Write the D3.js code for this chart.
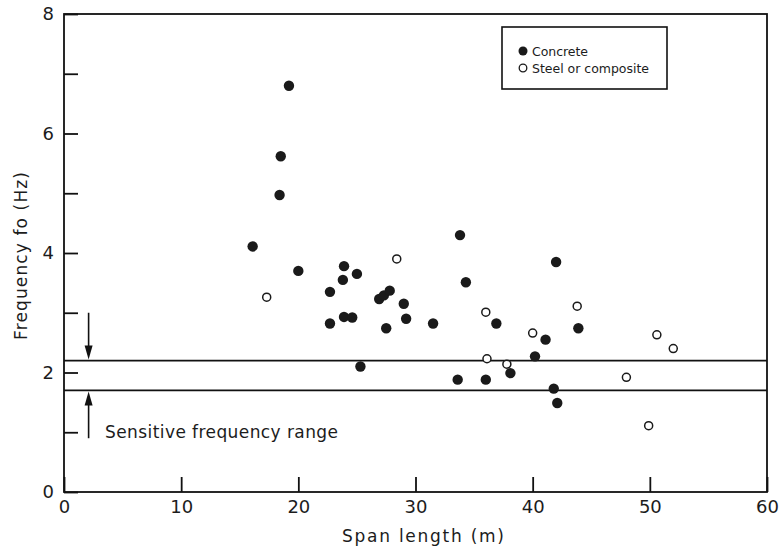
<!DOCTYPE html>
<html>
<head>
<meta charset="utf-8">
<script src="https://cdn.jsdelivr.net/npm/d3@7"></script>
<style>
  body { margin: 0; background: #fff; }
  text { font-family: "DejaVu Sans", "Liberation Sans", sans-serif; fill: #1c1c1c; }
</style>
</head>
<body>
<svg id="chart" width="782" height="547"></svg>
<script>
// span length (m) / frequency (Hz), concrete bridges
const concreteSpan = [19.2, 18.5, 18.4, 16.1, 20.0, 23.9, 23.8, 25.0, 22.7, 22.7, 23.9, 24.6, 25.3,
  26.9, 27.3, 27.8, 27.5, 29.0, 29.2, 33.8, 34.3, 31.5, 36.9, 41.1, 42.0, 43.9, 38.1, 40.2,
  33.6, 36.0, 41.8, 42.1];
const concreteFreq = [6.80, 5.62, 4.97, 4.11, 3.70, 3.78, 3.55, 3.65, 3.35, 2.82, 2.93, 2.92, 2.10,
  3.23, 3.29, 3.37, 2.74, 3.15, 2.90, 4.30, 3.51, 2.82, 2.82, 2.55, 3.85, 2.74, 1.99, 2.27,
  1.88, 1.88, 1.73, 1.49];
// steel or composite
const steelSpan = [17.3, 28.4, 36.0, 40.0, 43.8, 36.1, 37.8, 50.6, 52.0, 48.0, 49.9];
const steelFreq = [3.26, 3.90, 3.01, 2.66, 3.11, 2.23, 2.14, 2.63, 2.40, 1.92, 1.11];

const xTicks = [0, 10, 20, 30, 40, 50, 60];
const yTicks = [0, 1, 2, 3, 4, 5, 6, 7, 8];
const sensitiveRange = [1.7, 2.2];
const legendItems = ["Concrete", "Steel or composite"];

const svg = d3.select("#chart");
const x = d3.scaleLinear().domain([0, 60]).range([64, 767]);
const y = d3.scaleLinear().domain([0, 8]).range([492, 14]);

// frame
svg.append("rect")
  .attr("x", x(0)).attr("y", y(8))
  .attr("width", x(60) - x(0)).attr("height", y(0) - y(8))
  .attr("fill", "none").attr("stroke", "#111").attr("stroke-width", 1.8);

// y axis, ticks inside
const yAxis = svg.append("g")
  .attr("transform", `translate(${x(0)},0)`)
  .call(d3.axisLeft(y).tickValues(yTicks).tickSize(-14).tickPadding(10)
    .tickFormat(d => d % 2 === 0 ? d : ""));
yAxis.select(".domain").remove();
yAxis.selectAll("line").attr("stroke", "#111").attr("stroke-width", 1.8);
yAxis.selectAll("text").style("font-size", "18px").style("font-family", "DejaVu Sans").attr("fill", "#1c1c1c");

// x axis, ticks pointing up
const xAxis = svg.append("g")
  .attr("transform", `translate(0,${y(0)})`)
  .call(d3.axisBottom(x).tickValues(xTicks).tickSize(-15).tickPadding(8));
xAxis.select(".domain").remove();
xAxis.selectAll("line").attr("stroke", "#111").attr("stroke-width", 1.8);
xAxis.selectAll("text").style("font-size", "18px").style("font-family", "DejaVu Sans").attr("fill", "#1c1c1c");

// axis titles
svg.append("text")
  .attr("x", 423).attr("y", 542)
  .attr("text-anchor", "middle")
  .attr("textLength", 162).attr("lengthAdjust", "spacing")
  .style("font-size", "17px")
  .text("Span length (m)");
svg.append("text")
  .attr("transform", `translate(27,256) rotate(-90)`)
  .attr("text-anchor", "middle")
  .attr("textLength", 168).attr("lengthAdjust", "spacing")
  .style("font-size", "17px")
  .text("Frequency fo (Hz)");

// sensitive frequency band
svg.selectAll("line.band")
  .data(sensitiveRange)
  .join("line")
  .attr("class", "band")
  .attr("x1", x(0)).attr("x2", x(60))
  .attr("y1", d => y(d)).attr("y2", d => y(d))
  .attr("stroke", "#111").attr("stroke-width", 1.8);

// arrows pointing at the band
const ax = x(2.1);
function arrow(yFrom, yTo) {
  const dir = yTo > yFrom ? 1 : -1;
  svg.append("line")
    .attr("x1", ax).attr("x2", ax)
    .attr("y1", yFrom).attr("y2", yTo - dir * 10)
    .attr("stroke", "#111").attr("stroke-width", 1.6);
  svg.append("path")
    .attr("d", `M${ax - 4},${yTo - dir * 14}L${ax + 4},${yTo - dir * 14}L${ax},${yTo}Z`)
    .attr("fill", "#111");
}
arrow(y(3.0), y(sensitiveRange[1]) - 1);
arrow(y(0.9), y(sensitiveRange[0]) + 1);

svg.append("text")
  .attr("x", 105).attr("y", 438)
  .attr("textLength", 233).attr("lengthAdjust", "spacing")
  .style("font-size", "17px")
  .text("Sensitive frequency range");

// points
const concrete = concreteSpan.map((s, i) => ({ s, f: concreteFreq[i] }));
const steel = steelSpan.map((s, i) => ({ s, f: steelFreq[i] }));

svg.append("g").selectAll("circle")
  .data(concrete)
  .join("circle")
  .attr("cx", d => x(d.s)).attr("cy", d => y(d.f))
  .attr("r", 5.2)
  .attr("fill", "#1a1a1a");

svg.append("g").selectAll("circle")
  .data(steel)
  .join("circle")
  .attr("cx", d => x(d.s)).attr("cy", d => y(d.f))
  .attr("r", 4)
  .attr("fill", "#fff")
  .attr("stroke", "#1a1a1a").attr("stroke-width", 1.5);

// legend
const legendWidths = [56, 117];
const lg = svg.append("g").attr("transform", "translate(502,27)");
lg.append("rect")
  .attr("width", 165).attr("height", 62)
  .attr("fill", "#fff").attr("stroke", "#111").attr("stroke-width", 1.6);
legendItems.forEach((name, i) => {
  const cy = 24 + i * 17;
  lg.append("circle")
    .attr("cx", 21).attr("cy", cy)
    .attr("r", i === 0 ? 4.5 : 3.8)
    .attr("fill", i === 0 ? "#1a1a1a" : "#fff")
    .attr("stroke", "#1a1a1a").attr("stroke-width", i === 0 ? 0 : 1.3);
  lg.append("text")
    .attr("x", 30).attr("y", cy + 4.5)
    .attr("textLength", legendWidths[i]).attr("lengthAdjust", "spacing")
    .style("font-size", "12.5px")
    .text(name);
});
</script>
</body>
</html>
